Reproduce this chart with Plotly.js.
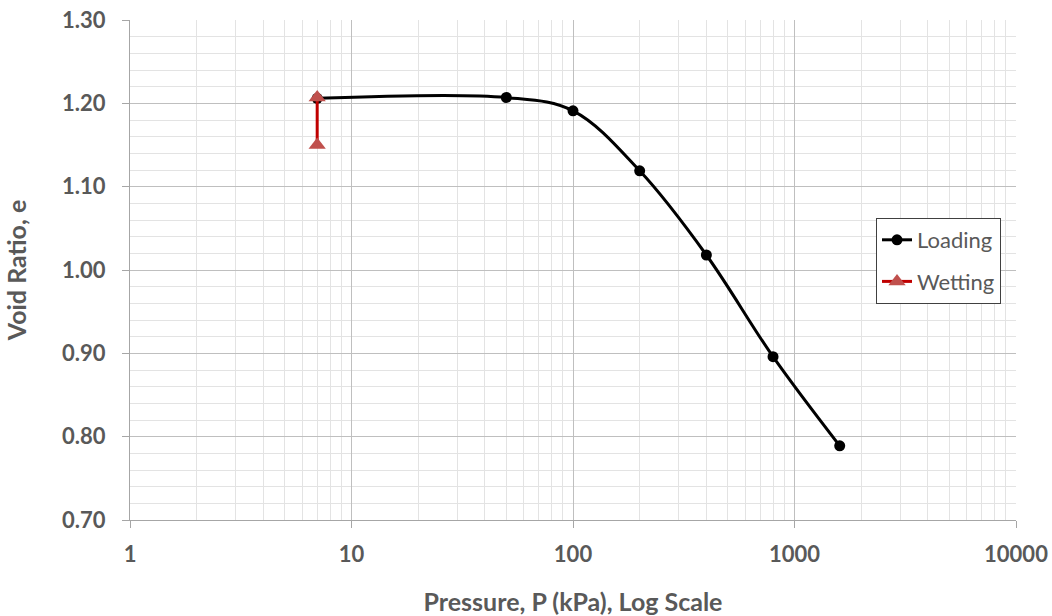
<!DOCTYPE html>
<html><head><meta charset="utf-8">
<script src="https://cdn.plot.ly/plotly-3.0.1.min.js"></script>
<style>html,body{margin:0;padding:0;background:#fff}#chart{width:1052px;height:616px}</style>
</head><body><div id="chart"></div>
<script>
const loadingP = [7, 50, 100, 200, 400, 800, 1600];
const loadingE = [1.206, 1.207, 1.191, 1.119, 1.018, 0.896, 0.789];
const wettingP = [7, 7];
const wettingE = [1.150, 1.207];
const xTickVals = [1, 10, 100, 1000, 10000];
const xTickText = ['1', '10', '100', '1000', '10000'];

const FONT = 'Lato, "Open Sans", sans-serif';
const GREY = '#595959';

const traces = [
  {x: loadingP, y: loadingE, name: 'Loading', mode: 'lines+markers', type: 'scatter', legendgroup: 'a',
   line: {color: '#000000', width: 3, shape: 'spline', smoothing: 1},
   marker: {color: '#000000', size: 11, symbol: 'circle'}},
  {x: wettingP, y: wettingE, name: 'Wetting', mode: 'lines+markers', type: 'scatter', legendgroup: 'b',
   line: {color: '#C00000', width: 3},
   marker: {color: '#C0504D', size: 15, symbol: 'triangle-up'}}
];

const layout = {
  width: 1052, height: 616,
  margin: {l: 130, r: 36, t: 20, b: 96},
  paper_bgcolor: '#fff', plot_bgcolor: '#fff',
  font: {family: FONT, color: GREY},
  showlegend: true,
  legend: {x: 0.842, y: 0.604, xanchor: 'left', yanchor: 'top',
    bordercolor: '#404040', borderwidth: 1, bgcolor: '#fff',
    font: {family: FONT, size: 22, color: GREY}, tracegroupgap: 10},
  xaxis: {type: 'log', range: [0, 4], tickvals: xTickVals, ticktext: xTickText,
    showgrid: true, gridcolor: '#bfbfbf', gridwidth: 1,
    minor: {showgrid: true, gridcolor: '#e3e3e3', gridwidth: 1, dtick: 'D1', ticks: ''},
    showline: true, linecolor: '#a6a6a6', linewidth: 1,
    ticks: 'outside', ticklen: 7, tickcolor: '#a6a6a6', ticklabelstandoff: 8,
    tickfont: {family: FONT, size: 22, color: GREY, weight: 'bold'},
    zeroline: false,
    title: {text: '<b>Pressure, P (kPa), Log Scale</b>', font: {family: FONT, size: 25, color: GREY}, standoff: 30}},
  yaxis: {range: [0.7, 1.3], dtick: 0.1, tick0: 0.7, tickformat: '.2f',
    showgrid: true, gridcolor: '#bfbfbf', gridwidth: 1,
    minor: {showgrid: true, gridcolor: '#e3e3e3', gridwidth: 1, dtick: 0.02, ticks: ''},
    showline: true, linecolor: '#a6a6a6', linewidth: 1,
    ticks: 'outside', ticklen: 7, tickcolor: '#a6a6a6', ticklabelstandoff: 12,
    tickfont: {family: FONT, size: 22, color: GREY, weight: 'bold'},
    zeroline: false,
    title: {text: '<b>Void Ratio, e</b>', font: {family: FONT, size: 25, color: GREY}, standoff: 28}}
};

Plotly.newPlot('chart', traces, layout, {displayModeBar: false, staticPlot: true});
</script></body></html>
